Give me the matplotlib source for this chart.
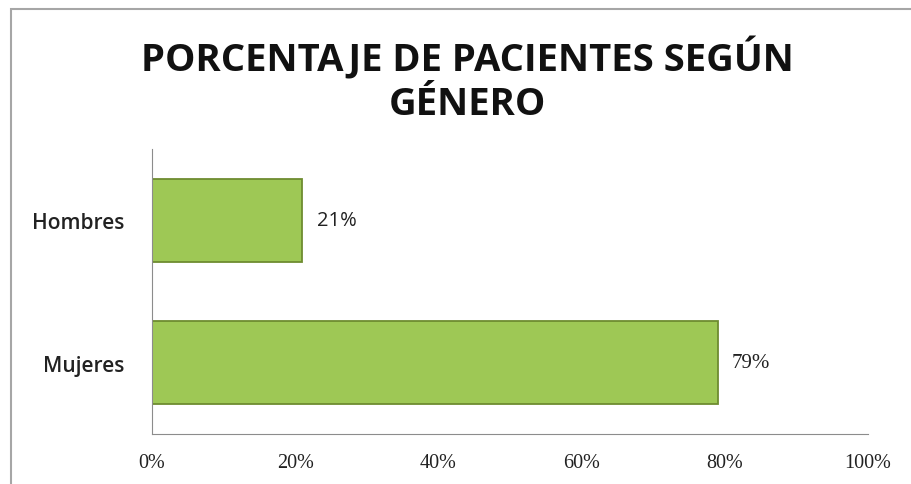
import matplotlib.pyplot as plt
from matplotlib.patches import Rectangle

# data
categories = ['Mujeres', 'Hombres']
values = [79, 21]
value_labels = ['79%', '21%']
xticks = [0, 20, 40, 60, 80, 100]
xtick_labels = ['0%', '20%', '40%', '60%', '80%', '100%']

fig = plt.figure(figsize=(9.12, 4.85), dpi=100)
ax = fig.add_axes([0.1667, 0.103, 0.785, 0.588])

# outer chart border (cut off at right and bottom like the picture)
fig.patches.append(Rectangle((11 / 912, -0.05), 1.0, 1 - 10 / 485 + 0.05,
                             transform=fig.transFigure, fill=False,
                             edgecolor='#a6a6a6', linewidth=1.5))

bars = ax.barh(range(len(categories)), values, height=0.58,
               color='#9ec855', edgecolor='#6e8c30', linewidth=1.3)

# data labels, small offset to the right of each bar
fonts = ['Liberation Serif', 'Open Sans']
sizes = [15, 14.5]
for i, v in enumerate(values):
    ax.text(v + 2.0, i, value_labels[i], va='center', ha='left',
            fontsize=sizes[i], family=fonts[i], color='#222222')

ax.set_xlim(0, 100)
ax.set_ylim(-0.5, 1.5)
ax.set_yticks(range(len(categories)))
ax.set_yticklabels(categories, fontsize=15, family='Open Sans',
                   fontweight='semibold', color='#222222')
ax.set_xticks(xticks)
ax.set_xticklabels(xtick_labels, fontsize=14.5, family='Liberation Serif',
                   color='#222222')
ax.tick_params(length=0)
ax.tick_params(axis='x', pad=14)
ax.tick_params(axis='y', pad=20)

for s in ['top', 'right']:
    ax.spines[s].set_visible(False)
for s in ['left', 'bottom']:
    ax.spines[s].set_color('#8c8c8c')

fig.text(0.512, 0.833, 'PORCENTAJE DE PACIENTES SEGÚN\nGÉNERO', ha='center',
         va='center', fontsize=27.5, fontweight='bold', family='Open Sans',
         linespacing=1.2, color='#111111')

fig.savefig('out.png', dpi=100)
